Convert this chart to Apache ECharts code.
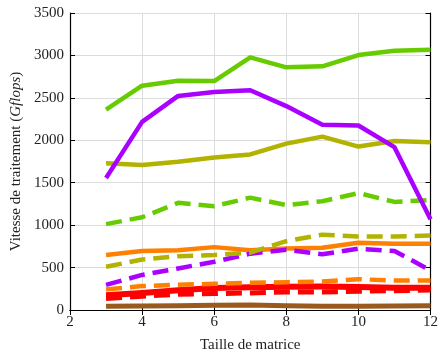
<!DOCTYPE html>
<html>
<head>
<meta charset="utf-8">
<script src="https://cdn.jsdelivr.net/npm/echarts@6/dist/echarts.min.js"></script>
<style>
  html, body { margin: 0; padding: 0; background: #fff; }
  #chart { width: 441px; height: 358px; }
</style>
</head>
<body>
<div id="chart"></div>
<script>
// Matrix sizes (x axis)
const sizes = [3, 4, 5, 6, 7, 8, 9, 10, 11, 12];

// Throughput in Gflops for each configuration
const greenSolid  = [2360, 2643, 2702, 2698, 2977, 2860, 2872, 3004, 3054, 3066];
const purpleSolid = [1555, 2217, 2523, 2570, 2589, 2403, 2182, 2174, 1919, 1070];
const oliveSolid  = [1729, 1709, 1748, 1798, 1833, 1961, 2043, 1926, 1992, 1977];
const greenDashed = [1012, 1093, 1263, 1224, 1324, 1236, 1282, 1378, 1274, 1297];
const orangeSolid = [649, 695, 703, 741, 703, 726, 734, 792, 780, 780];
const oliveDashed = [510, 595, 633, 649, 676, 811, 888, 865, 865, 877];
const purpleDashed = [297, 413, 490, 568, 664, 710, 656, 722, 695, 467];
const orangeDashed = [243, 282, 297, 309, 320, 328, 336, 363, 347, 347];
const redSolid    = [174, 201, 232, 258, 268, 274, 276, 270, 262, 262];
const redDashed   = [135, 162, 185, 193, 201, 212, 212, 220, 228, 235];
const brownSolid  = [45, 48, 50, 55, 58, 50, 45, 45, 48, 50];

const xTicks = [2, 4, 6, 8, 10, 12];
const yTicks = [0, 500, 1000, 1500, 2000, 2500, 3000, 3500];

const serif = '"Liberation Serif", "DejaVu Serif", serif';

function pairs(vals) {
  return sizes.map((s, i) => [s, vals[i]]);
}

function line(vals, color, dashed, width) {
  return {
    type: 'line',
    data: pairs(vals),
    showSymbol: false,
    symbol: 'none',
    animation: false,
    lineStyle: {
      color: color,
      width: width,
      type: dashed ? [16, 8] : 'solid',
      cap: 'butt',
      join: 'round'
    }
  };
}

const chart = echarts.init(document.getElementById('chart'), null, { renderer: 'canvas' });

const axisLineStyle = { show: true, lineStyle: { color: '#000', width: 1.2 } };
const tickStyle = { show: true, inside: true, length: 5, lineStyle: { color: '#000', width: 1 } };
const plain = v => String(v);

chart.setOption({
  animation: false,
  backgroundColor: '#fff',
  grid: { left: 70, right: 8, top: 13, bottom: 45, containLabel: false },
  xAxis: [
    {
      type: 'value', min: xTicks[0], max: xTicks[xTicks.length - 1], interval: 2,
      name: 'Taille de matrice', nameLocation: 'middle', nameGap: 28,
      nameTextStyle: { fontFamily: serif, fontSize: 15, color: '#222' },
      axisLine: axisLineStyle, axisTick: tickStyle,
      axisLabel: { fontFamily: serif, fontSize: 15, color: '#222', margin: 5, formatter: plain },
      splitLine: { show: true, lineStyle: { color: '#dcdcdc', width: 1 } }
    },
    {
      type: 'value', position: 'top', min: xTicks[0], max: xTicks[xTicks.length - 1], interval: 2,
      axisLine: axisLineStyle, axisTick: tickStyle,
      axisLabel: { show: false }, splitLine: { show: false }
    }
  ],
  yAxis: [
    {
      type: 'value', min: yTicks[0], max: yTicks[yTicks.length - 1], interval: 500,
      name: 'Vitesse de traitement ({it|Gflops})', nameLocation: 'middle', nameGap: 46,
      nameTextStyle: {
        fontFamily: serif, fontSize: 15, color: '#222',
        rich: { it: { fontFamily: serif, fontSize: 15, fontStyle: 'italic', color: '#222' } }
      },
      axisLine: axisLineStyle, axisTick: tickStyle,
      axisLabel: { fontFamily: serif, fontSize: 15, color: '#222', margin: 6, formatter: plain },
      splitLine: { show: true, lineStyle: { color: '#dcdcdc', width: 1 } }
    },
    {
      type: 'value', position: 'right', min: yTicks[0], max: yTicks[yTicks.length - 1], interval: 500,
      axisLine: axisLineStyle, axisTick: tickStyle,
      axisLabel: { show: false }, splitLine: { show: false }
    }
  ],
  series: [
    line(brownSolid, '#9a5a1e', false, 5),
    line(redDashed, '#ff0000', true, 5),
    line(redSolid, '#ff0000', false, 6),
    line(orangeDashed, '#ff8000', true, 4.5),
    line(orangeSolid, '#ff8000', false, 4.5),
    line(purpleDashed, '#aa00ff', true, 4.5),
    line(oliveDashed, '#b2b200', true, 4.5),
    line(greenDashed, '#66cc00', true, 4.5),
    line(oliveSolid, '#b2b200', false, 4.5),
    line(purpleSolid, '#aa00ff', false, 4.5),
    line(greenSolid, '#66cc00', false, 4.5)
  ]
});
</script>
</body>
</html>
